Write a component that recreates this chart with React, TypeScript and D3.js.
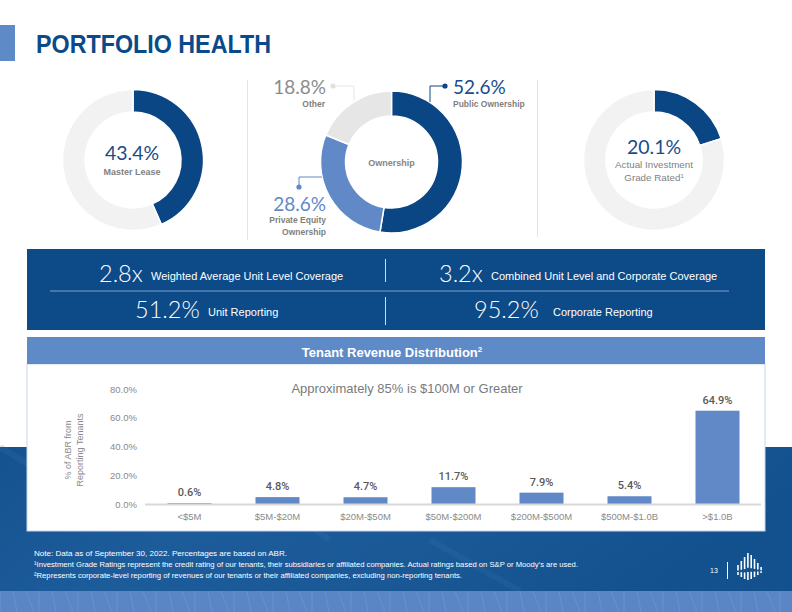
import React from "react";
import * as d3 from "d3";

// ---------- data ----------
const masterLeaseShare = [43.4, 56.6];
const investmentGradeShare = [20.1, 79.9];
const ownershipLabels = ["Public Ownership", "Private Equity Ownership", "Other"];
const ownershipValues = [52.6, 28.6, 18.8];

const bandValues = ["2.8x", "3.2x", "51.2%", "95.2%"];
const bandLabels = [
  "Weighted Average Unit Level Coverage",
  "Combined Unit Level and Corporate Coverage",
  "Unit Reporting",
  "Corporate Reporting",
];

const categories = ["<$5M", "$5M-$20M", "$20M-$50M", "$50M-$200M", "$200M-$500M", "$500M-$1.0B", ">$1.0B"];
const revenueShare = [0.6, 4.8, 4.7, 11.7, 7.9, 5.4, 64.9];
const yTicks = [0, 20, 40, 60, 80];

const footnotes = [
  "Note: Data as of September 30, 2022. Percentages are based on ABR.",
  "\u00B9Investment Grade Ratings represent the credit rating of our tenants, their subsidiaries or affiliated companies. Actual ratings based on S&P or Moody\u2019s are used.",
  "\u00B2Represents corporate-level reporting of revenues of our tenants or their affiliated companies, excluding non-reporting tenants.",
];

// ---------- style ----------
const DARK = "#0b4684";
const BAND = "#0c4a88";
const MID = "#6189c8";
const LIGHT = "#f2f2f2";
const OTHER = "#e6e6e6";
const GRAY = "#7f7f7f";
const SANS = "'Liberation Sans', Arial, sans-serif";
const LIGHTF = "Lato, 'Open Sans', sans-serif";

function Donut({ cx, cy, values, colors, rOuter, rInner }: any) {
  const arcs = d3.pie<number>().sort(null).value((d) => d)(values);
  const arc = d3.arc<d3.PieArcDatum<number>>().innerRadius(rInner).outerRadius(rOuter);
  return (
    <g transform={`translate(${cx},${cy})`}>
      {arcs.map((a, i) => (
        <path key={i} d={arc(a) as string} fill={colors[i]} stroke="#fff" strokeWidth={1.5} />
      ))}
    </g>
  );
}

const logoBars = [
  [0, 12, 22], [3.3, 8, 24], [6.6, 4, 26], [9.9, 0, 27], [13.2, 2, 26], [16.5, 6, 24], [19.8, 10, 22], [23.1, 14, 20],
];

export default function App() {
  const x = d3.scaleBand<string>().domain(categories).range([145.5, 761.5]).paddingInner(0.5).paddingOuter(0.25);
  const y = d3.scaleLinear().domain([0, 80]).range([504, 389]);
  const fmt = d3.format(".1f");

  return (
    <svg width={792} height={612} style={{ position: "absolute", left: 0, top: 0 }} fontFamily={SANS}>
      <defs>
        <linearGradient id="photo" x1="0" y1="0" x2="1" y2="0.3">
          <stop offset="0" stopColor="#14518f" />
          <stop offset="0.35" stopColor="#1d5c9b" />
          <stop offset="0.65" stopColor="#1a5896" />
          <stop offset="1" stopColor="#12508e" />
        </linearGradient>
      </defs>
      <rect x={0} y={0} width={792} height={612} fill="#fff" />

      {/* photo background */}
      <rect x={0} y={447} width={792} height={165} fill="url(#photo)" />
      {[[0, 447, 120, 520], [200, 447, 330, 540], [560, 447, 700, 530], [430, 540, 520, 591]].map((p, i) => (
        <line key={i} x1={p[0]} y1={p[1]} x2={p[2]} y2={p[3]} stroke="#3c76b3" strokeOpacity={0.2} strokeWidth={6} />
      ))}
      <rect x={0} y={591} width={792} height={21} fill="#5b86c6" />
      {d3.range(0, 792, 13).map((v, i) => (
        <line key={i} x1={v} y1={591} x2={v + (i % 3) * 4} y2={612} stroke="#86a6d6" strokeOpacity={0.35} strokeWidth={1} />
      ))}

      {/* title */}
      <rect x={0} y={25} width={15} height={36} fill="#5e8ac8" />
      <text x={36} y={53} fontSize={25} fontWeight="bold" fill="#0b4a8a" textLength={235} lengthAdjust="spacingAndGlyphs">
        PORTFOLIO HEALTH
      </text>

      {/* donut 1 */}
      <Donut cx={133} cy={160} values={masterLeaseShare} colors={[DARK, LIGHT]} rOuter={70.5} rInner={48} />
      <text x={132} y={160} textAnchor="middle" fontFamily={LIGHTF} fontSize={19.5} fill="#1b4c8a">43.4%</text>
      <text x={132} y={175} textAnchor="middle" fontSize={9} fontWeight="bold" fill={GRAY}>Master Lease</text>

      {/* separators */}
      <line x1={247.5} y1={80} x2={247.5} y2={240} stroke="#e3e3e3" />
      <line x1={537.5} y1={80} x2={537.5} y2={237} stroke="#e3e3e3" />

      {/* donut 2 */}
      <Donut cx={391.5} cy={162} values={ownershipValues} colors={[DARK, MID, OTHER]} rOuter={71} rInner={46} />
      <text x={391.5} y={166} textAnchor="middle" fontSize={9} fill="#6f6f6f" fontWeight="bold" opacity={0.85}>Ownership</text>
      <path d="M445,86H430V102" fill="none" stroke={DARK} strokeWidth={1} />
      <circle cx={445} cy={86} r={2.6} fill={DARK} />
      <text x={453} y={94} fontFamily={LIGHTF} fontSize={19} fill="#1b4c8a">{fmt(ownershipValues[0])}%</text>
      <text x={453} y={107} fontSize={8.5} fontWeight="bold" fill={GRAY}>{ownershipLabels[0]}</text>

      <path d="M333,86H354V101" fill="none" stroke={OTHER} strokeWidth={1} />
      <circle cx={333} cy={86} r={2.6} fill="#e0e0e0" />
      <text x={326} y={94} textAnchor="end" fontFamily={LIGHTF} fontSize={19} fill="#8c8c8c">{fmt(ownershipValues[2])}%</text>
      <text x={325} y={107} textAnchor="end" fontSize={8.5} fontWeight="bold" fill={GRAY}>{ownershipLabels[2]}</text>

      <path d="M299,187V177H322" fill="none" stroke={MID} strokeWidth={1} />
      <circle cx={299} cy={187} r={2.6} fill={MID} />
      <text x={326} y={211} textAnchor="end" fontFamily={LIGHTF} fontSize={19} fill={MID}>{fmt(ownershipValues[1])}%</text>
      <text x={326} y={223} textAnchor="end" fontSize={8.5} fontWeight="bold" fill={GRAY}>Private Equity</text>
      <text x={326} y={235} textAnchor="end" fontSize={8.5} fontWeight="bold" fill={GRAY}>Ownership</text>

      {/* donut 3 */}
      <Donut cx={654} cy={160} values={investmentGradeShare} colors={[DARK, LIGHT]} rOuter={70.5} rInner={48} />
      <text x={654} y={154} textAnchor="middle" fontFamily={LIGHTF} fontSize={19.5} fill="#1b4c8a">20.1%</text>
      <text x={654} y={168} textAnchor="middle" fontSize={9.8} fill={GRAY}>Actual Investment</text>
      <text x={654} y={181} textAnchor="middle" fontSize={9.8} fill={GRAY}>
        Grade Rated<tspan fontSize={6} dy={-3.5}>1</tspan>
      </text>

      {/* blue metrics band */}
      <rect x={27} y={249} width={738} height={81} fill={BAND} />
      <line x1={50} y1={291} x2={729} y2={291} stroke="#7f9fcc" strokeWidth={1} />
      <line x1={385.5} y1={259} x2={385.5} y2={282} stroke="#d0dcee" strokeWidth={1} />
      <line x1={385.5} y1={297} x2={385.5} y2={325} stroke="#d0dcee" strokeWidth={1} />
      {[
        [99, 282, 151, 280],
        [439, 282, 491, 280],
        [135, 318, 208, 316],
        [474, 318, 553, 316],
      ].map((p, i) => (
        <g key={i} fill="#fff">
          <text x={p[0]} y={p[1]} fontFamily={LIGHTF} fontWeight={300} fontSize={23.5}>{bandValues[i]}</text>
          <text x={p[2]} y={p[3]} fontSize={11}>{bandLabels[i]}</text>
        </g>
      ))}

      {/* chart panel */}
      <rect x={27} y={364} width={738} height={167} fill="#fff" stroke="#c8d5ea" strokeWidth={1} />
      <rect x={27} y={337} width={738} height={27} fill="#5f8ac8" />
      <text x={392} y={357} textAnchor="middle" fontSize={13} fontWeight="bold" fill="#fff">
        Tenant Revenue Distribution<tspan fontSize={8} dy={-5}>2</tspan>
      </text>
      <text x={407} y={393} textAnchor="middle" fontSize={13} fill="#7a7a7a">Approximately 85% is $100M or Greater</text>

      {/* y axis */}
      {yTicks.map((t) => (
        <text key={t} x={137} y={y(t) + 3.5} textAnchor="end" fontSize={9.5} fill="#8a8a8a">
          {fmt(t)}%
        </text>
      ))}
      <text transform="translate(71,450) rotate(-90)" textAnchor="middle" fontSize={9} fill="#8a8a8a">% of ABR from</text>
      <text transform="translate(83,450) rotate(-90)" textAnchor="middle" fontSize={9} fill="#8a8a8a">Reporting Tenants</text>

      {/* bars */}
      {categories.map((c, i) => (
        <g key={c}>
          <rect x={x(c)} y={y(revenueShare[i])} width={x.bandwidth()} height={y(0) - y(revenueShare[i])} fill={MID} />
          <text x={(x(c) as number) + x.bandwidth() / 2} y={y(revenueShare[i]) - 7} textAnchor="middle" fontFamily="Roboto, sans-serif" fontWeight={500} fontSize={11} fill="#595959">
            {fmt(revenueShare[i])}%
          </text>
          <text x={(x(c) as number) + x.bandwidth() / 2} y={519.5} textAnchor="middle" fontSize={9.5} fill="#8a8a8a">
            {c}
          </text>
        </g>
      ))}
      <line x1={145} x2={761} y1={504.5} y2={504.5} stroke="#d9d9d9" strokeWidth={2} />

      {/* footnotes */}
      {footnotes.map((f, i) => (
        <text key={i} x={34} y={[556, 567, 578][i]} fontSize={7.5} fill="#fff" textLength={[253, 544, 428][i]} lengthAdjust="spacingAndGlyphs">
          {f}
        </text>
      ))}

      {/* page number & logo */}
      <text x={714} y={573} textAnchor="middle" fontSize={7} fill="#fff">13</text>
      <line x1={727.5} y1={562} x2={727.5} y2={579} stroke="#fff" strokeWidth={1} />
      {logoBars.map((b, i) => (
        <g key={i} stroke="#fff" strokeWidth={1.6}>
          <line x1={738 + b[0]} x2={738 + b[0]} y1={553 + b[1]} y2={553 + b[1] + (b[2] - b[1]) * 0.55} />
          <line x1={738 + b[0]} x2={738 + b[0]} y1={553 + b[1] + (b[2] - b[1]) * 0.7} y2={553 + b[2]} />
        </g>
      ))}
    </svg>
  );
}
